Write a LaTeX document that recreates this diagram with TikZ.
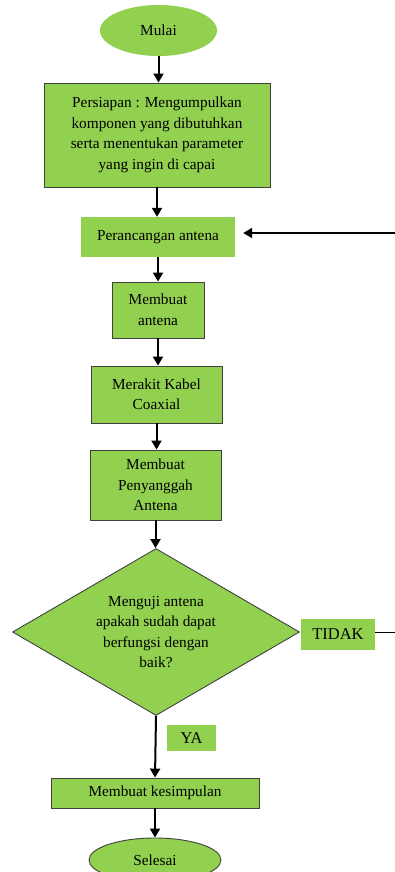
\documentclass[tikz,border=0pt]{standalone}
\usepackage{fontspec}
\setmainfont{Liberation Serif}
\usetikzlibrary{shapes.geometric,arrows.meta}
\definecolor{fg}{HTML}{92D050}
\definecolor{edge}{HTML}{404040}
\tikzset{
  box/.style={rectangle,fill=fg,draw=edge,line width=0.9pt,align=center,inner sep=0pt,
    font=\fontsize{15.3}{20.5}\selectfont},
  plain/.style={rectangle,fill=fg,align=center,inner sep=0pt,font=\fontsize{15.3}{20.5}\selectfont},
  lab/.style={rectangle,fill=fg,inner sep=0pt,font=\fontsize{16.5}{20}\selectfont},
  oval/.style={ellipse,fill=fg,inner sep=0pt,font=\fontsize{15.3}{20.5}\selectfont},
  arr/.style={-{Triangle[length=9pt,width=10pt]},line width=2pt,black},
  ln/.style={line width=1pt,black}
}
\begin{document}
\begin{tikzpicture}[x=1pt,y=-1pt]
\useasboundingbox (0,0) rectangle (395,872);
\clip (0,0) rectangle (395,872);
\node[oval,minimum width=117pt,minimum height=51pt] (mulai) at (158.5,30.5) {Mulai};
\node[box,minimum width=226pt,minimum height=104pt] (siap) at (157,135)
  {Persiapan : Mengumpulkan\\komponen yang dibutuhkan\\serta menentukan parameter\\yang ingin di capai};
\node[plain,minimum width=154pt,minimum height=40pt] (rancang) at (158,237) {Perancangan antena};
\node[box,minimum width=92pt,minimum height=56pt] (buat) at (158,310) {Membuat\\antena};
\node[box,minimum width=131pt,minimum height=57pt] (rakit) at (156.5,394.5) {Merakit Kabel\\Coaxial};
\node[box,minimum width=131pt,minimum height=70pt] (sangga) at (155.5,485) {Membuat\\Penyanggah\\Antena};
\node[diamond,fill=fg,draw=edge,line width=0.9pt,aspect=1.72,inner sep=0pt,
  minimum width=287pt,minimum height=167pt,align=center,font=\fontsize{15.3}{20.5}\selectfont]
  (uji) at (156,632) {Menguji antena\\apakah sudah dapat\\berfungsi dengan\\baik?};
\node[lab,minimum width=74pt,minimum height=31pt] (tidak) at (338,634.5) {TIDAK};
\node[lab,minimum width=49pt,minimum height=26pt] (ya) at (191.5,738) {YA};
\node[box,minimum width=208pt,minimum height=30pt] (simpul) at (155,793) {Membuat kesimpulan};
\node[oval,draw=edge,line width=0.9pt,minimum width=132pt,minimum height=44pt] (selesai) at (155,860) {Selesai};
\coordinate (kanan) at (395,233);
\coordinate (tidakend) at (395,632);
\draw[arr] (mulai.south) -- (mulai.south |- siap.north);
\draw[arr] (siap.south) -- (siap.south |- rancang.north);
\draw[arr] (rancang.south) -- (rancang.south |- buat.north);
\draw[arr] (buat.south) -- (buat.south |- rakit.north);
\draw[arr] (rakit.south) -- (rakit.south |- sangga.north);
\draw[arr] (sangga.south) -- (sangga.south |- uji.north);
\draw[arr] (uji.south) -- (simpul.north);
\draw[arr] (simpul.south) -- (simpul.south |- selesai.north);
\draw[arr] (kanan) -- ([xshift=8pt]rancang.east |- kanan);
\draw[ln] (tidak.east |- tidakend) -- (tidakend);
\end{tikzpicture}
\end{document}
